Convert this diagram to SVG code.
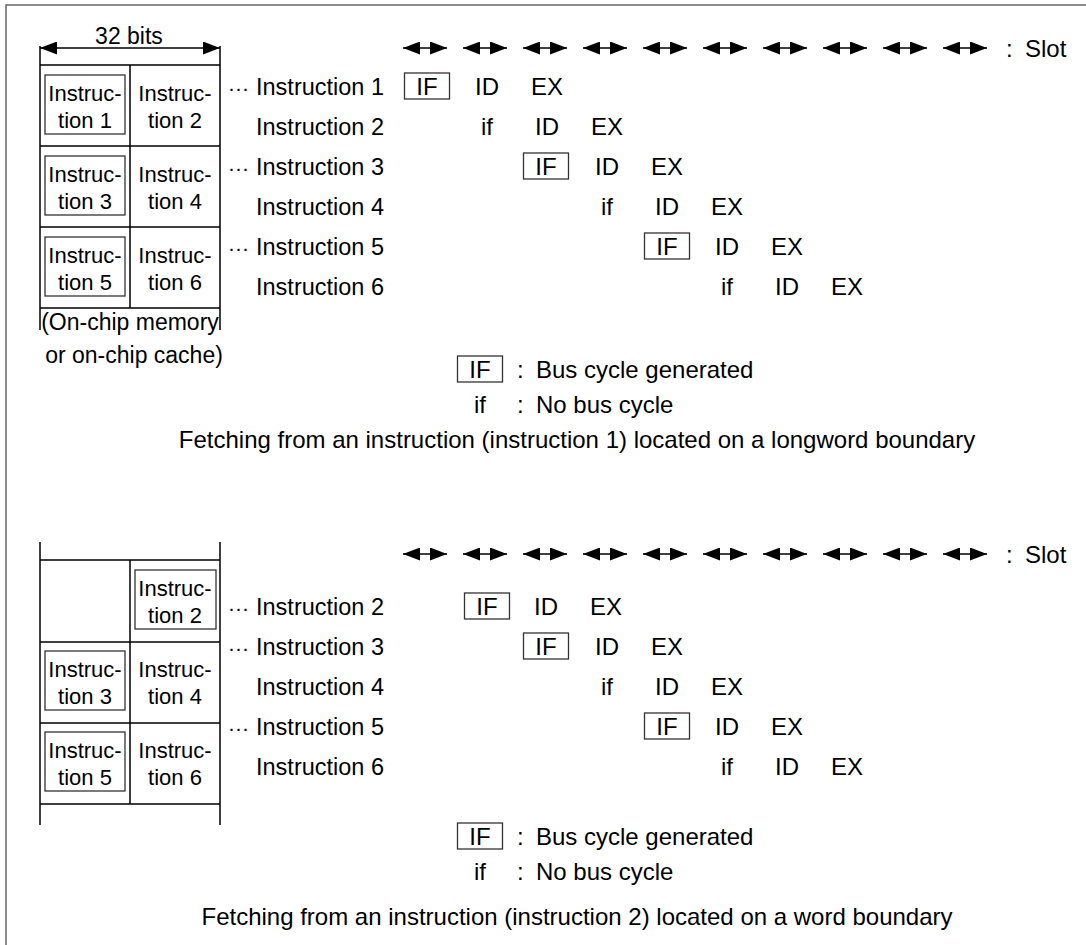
<svg xmlns="http://www.w3.org/2000/svg" width="1086" height="945" viewBox="0 0 1086 945">
<defs>
<style>
text{font-family:"Liberation Sans",Arial,sans-serif;font-size:24px;fill:#000}
.c{text-anchor:middle}
.lbl{font-size:23.5px}
.dots{font-size:21px}
.cell{font-size:22px;text-anchor:middle}
.mem{font-size:23px;text-anchor:middle}
.ln{stroke:#000;stroke-width:1.5;fill:none}
.bx{stroke:#333;stroke-width:1.3;fill:none}
.frame{stroke:#666;stroke-width:1.5;fill:none}
</style>
<marker id="ah" viewBox="0 0 17 13" refX="17" refY="6.5" markerWidth="17" markerHeight="13" markerUnits="userSpaceOnUse" orient="auto-start-reverse">
<path d="M0,0L17,6.5L0,13Z" fill="#000"/>
</marker>
<g id="slot">
<line x1="-22" y1="0" x2="22" y2="0" stroke="#000" stroke-width="1.6" marker-start="url(#ah)" marker-end="url(#ah)"/>
</g>
<rect id="ifbox" x="-22.5" y="-22" width="45" height="26" class="bx"/>
</defs>
<path class="frame" d="M6,945V5H1086"/>

<!-- ===== TOP SECTION ===== -->
<g id="top-memory">
<text class="mem" x="129" y="44">32 bits</text>
<line x1="40" y1="48" x2="220" y2="48" class="ln" marker-start="url(#ah)" marker-end="url(#ah)"/>
<path class="ln" d="M40,46V330M220,46V330M40,65H220M40,146H220M40,227H220M40,308H220M130,65V308"/>
<rect class="bx" x="45" y="75" width="80" height="59"/>
<rect class="bx" x="45" y="156" width="80" height="59"/>
<rect class="bx" x="45" y="237" width="80" height="59"/>
<text class="cell" x="85" y="101">Instruc-</text><text class="cell" x="85" y="128">tion 1</text>
<text class="cell" x="175" y="101">Instruc-</text><text class="cell" x="175" y="128">tion 2</text>
<text class="cell" x="85" y="182">Instruc-</text><text class="cell" x="85" y="209">tion 3</text>
<text class="cell" x="175" y="182">Instruc-</text><text class="cell" x="175" y="209">tion 4</text>
<text class="cell" x="85" y="263">Instruc-</text><text class="cell" x="85" y="290">tion 5</text>
<text class="cell" x="175" y="263">Instruc-</text><text class="cell" x="175" y="290">tion 6</text>
<text class="mem" x="130" y="330">(On-chip memory</text>
<text class="mem" x="134" y="363">or on-chip cache)</text>
</g>

<g id="top-slots">
<use href="#slot" x="425" y="48"/><use href="#slot" x="485" y="48"/><use href="#slot" x="545" y="48"/><use href="#slot" x="605" y="48"/><use href="#slot" x="665" y="48"/>
<use href="#slot" x="725" y="48"/><use href="#slot" x="785" y="48"/><use href="#slot" x="845" y="48"/><use href="#slot" x="905" y="48"/><use href="#slot" x="965" y="48"/>
<text x="1006" y="57">:</text><text x="1025" y="57">Slot</text>
</g>

<g id="top-pipeline">
<text class="dots" x="228" y="95">···</text><text class="lbl" x="256" y="95">Instruction 1</text>
<text class="lbl" x="256" y="135">Instruction 2</text>
<text class="dots" x="228" y="175">···</text><text class="lbl" x="256" y="175">Instruction 3</text>
<text class="lbl" x="256" y="215">Instruction 4</text>
<text class="dots" x="228" y="255">···</text><text class="lbl" x="256" y="255">Instruction 5</text>
<text class="lbl" x="256" y="295">Instruction 6</text>

<use href="#ifbox" x="427" y="95"/><text class="c" x="427" y="95">IF</text><text class="c" x="487" y="95">ID</text><text class="c" x="547" y="95">EX</text>
<text class="c" x="487" y="135">if</text><text class="c" x="547" y="135">ID</text><text class="c" x="607" y="135">EX</text>
<use href="#ifbox" x="546" y="175"/><text class="c" x="546" y="175">IF</text><text class="c" x="607" y="175">ID</text><text class="c" x="667" y="175">EX</text>
<text class="c" x="607" y="215">if</text><text class="c" x="667" y="215">ID</text><text class="c" x="727" y="215">EX</text>
<use href="#ifbox" x="667" y="255"/><text class="c" x="667" y="255">IF</text><text class="c" x="727" y="255">ID</text><text class="c" x="787" y="255">EX</text>
<text class="c" x="727" y="295">if</text><text class="c" x="787" y="295">ID</text><text class="c" x="847" y="295">EX</text>
</g>

<g id="top-legend">
<use href="#ifbox" x="480" y="378"/><text class="c" x="480" y="378">IF</text>
<text x="517" y="378">:</text><text x="536" y="378">Bus cycle generated</text>
<text class="c" x="480" y="413">if</text>
<text x="517" y="413">:</text><text x="536" y="413">No bus cycle</text>
<text class="c" x="577" y="448">Fetching from an instruction (instruction 1) located on a longword boundary</text>
</g>

<!-- ===== BOTTOM SECTION ===== -->
<g id="bottom-memory">
<path class="ln" d="M40,542V825M220,542V825M40,560H220M40,642H220M40,723H220M40,804H220M130,560V804"/>
<rect class="bx" x="135" y="570" width="81" height="59"/>
<rect class="bx" x="45" y="651" width="80" height="59"/>
<rect class="bx" x="45" y="732" width="80" height="59"/>
<text class="cell" x="175" y="596">Instruc-</text><text class="cell" x="175" y="623">tion 2</text>
<text class="cell" x="85" y="677">Instruc-</text><text class="cell" x="85" y="704">tion 3</text>
<text class="cell" x="175" y="677">Instruc-</text><text class="cell" x="175" y="704">tion 4</text>
<text class="cell" x="85" y="758">Instruc-</text><text class="cell" x="85" y="785">tion 5</text>
<text class="cell" x="175" y="758">Instruc-</text><text class="cell" x="175" y="785">tion 6</text>
</g>

<g id="bottom-slots">
<use href="#slot" x="425" y="554"/><use href="#slot" x="485" y="554"/><use href="#slot" x="545" y="554"/><use href="#slot" x="605" y="554"/><use href="#slot" x="665" y="554"/>
<use href="#slot" x="725" y="554"/><use href="#slot" x="785" y="554"/><use href="#slot" x="845" y="554"/><use href="#slot" x="905" y="554"/><use href="#slot" x="965" y="554"/>
<text x="1006" y="563">:</text><text x="1025" y="563">Slot</text>
</g>

<g id="bottom-pipeline">
<text class="dots" x="228" y="615">···</text><text class="lbl" x="256" y="615">Instruction 2</text>
<text class="dots" x="228" y="655">···</text><text class="lbl" x="256" y="655">Instruction 3</text>
<text class="lbl" x="256" y="695">Instruction 4</text>
<text class="dots" x="228" y="735">···</text><text class="lbl" x="256" y="735">Instruction 5</text>
<text class="lbl" x="256" y="775">Instruction 6</text>

<use href="#ifbox" x="487" y="615"/><text class="c" x="487" y="615">IF</text><text class="c" x="546" y="615">ID</text><text class="c" x="606" y="615">EX</text>
<use href="#ifbox" x="546" y="655"/><text class="c" x="546" y="655">IF</text><text class="c" x="607" y="655">ID</text><text class="c" x="667" y="655">EX</text>
<text class="c" x="607" y="695">if</text><text class="c" x="667" y="695">ID</text><text class="c" x="727" y="695">EX</text>
<use href="#ifbox" x="667" y="735"/><text class="c" x="667" y="735">IF</text><text class="c" x="727" y="735">ID</text><text class="c" x="787" y="735">EX</text>
<text class="c" x="727" y="775">if</text><text class="c" x="787" y="775">ID</text><text class="c" x="847" y="775">EX</text>
</g>

<g id="bottom-legend">
<use href="#ifbox" x="480" y="845"/><text class="c" x="480" y="845">IF</text>
<text x="517" y="845">:</text><text x="536" y="845">Bus cycle generated</text>
<text class="c" x="480" y="880">if</text>
<text x="517" y="880">:</text><text x="536" y="880">No bus cycle</text>
<text class="c" x="577" y="925">Fetching from an instruction (instruction 2) located on a word boundary</text>
</g>
</svg>
